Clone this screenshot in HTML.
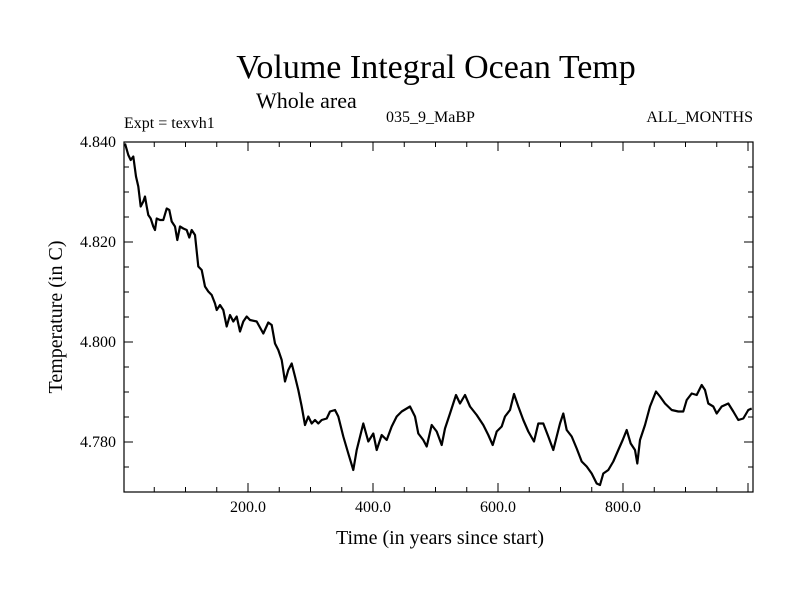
<!DOCTYPE html>
<html><head><meta charset="utf-8"><style>
body{margin:0;background:#fff;}
svg text{font-family:"Liberation Serif",serif;fill:#000;}
</style></head><body>
<svg id="chart" width="800" height="600" xmlns="http://www.w3.org/2000/svg">
<rect width="800" height="600" fill="#fff"/>
<text x="436" y="78" font-size="34" text-anchor="middle">Volume Integral Ocean Temp</text>
<text x="256" y="108" font-size="22">Whole area</text>
<text x="124" y="128" font-size="16">Expt = texvh1</text>
<text x="386" y="122" font-size="16">035_9_MaBP</text>
<text x="753" y="122" font-size="16" text-anchor="end">ALL_MONTHS</text>
<text transform="translate(62,317) rotate(-90)" font-size="20" text-anchor="middle">Temperature (in C)</text>
<text x="440" y="544" font-size="20" text-anchor="middle">Time (in years since start)</text>
<g id="axes"></g>
<path id="series" fill="none" stroke="#000" stroke-width="2.2" stroke-linejoin="round"/>
<rect x="124" y="142" width="629" height="350" fill="none" stroke="#000" stroke-width="1.2"/>
</svg>
<script>
const years=[3.2,8.5,12.3,16.5,20.8,24.5,28.3,32.5,35.2,37.9,40.5,44.3,48.5,51.2,53.9,59.2,64.5,69.9,74.1,77.9,83.2,86.9,91.2,96.5,101.9,106.1,109.9,115.2,120.5,125.9,131.2,136.5,141.9,147.2,149.9,155.2,160.5,165.9,171.2,176.5,181.9,187.2,192.5,197.9,203.2,213.9,224.5,232.5,237.9,243.2,248.5,253.9,259.2,264.5,269.9,275.2,280.5,285.9,291.2,296.5,301.9,307.2,312.5,317.9,325.9,331.2,339.2,344.5,352.5,360.5,368.5,373.9,384.5,392.5,400.5,405.9,413.9,421.9,429.9,437.9,445.9,459.2,467.2,472.5,480.5,485.9,493.9,501.9,509.9,515.2,523.2,532.8,539.2,547.2,555.2,565.9,576.5,584.5,591.5,597.9,605.9,611.2,619.2,625.6,632.5,640.5,648.5,657.6,664.5,672.5,680.5,688.5,693.9,699.2,704.5,709.9,717.9,725.9,733.9,741.9,749.9,757.9,763.2,768.5,776.5,784.5,792.5,799.5,805.9,812.3,819.2,822.9,827.2,835.2,843.2,852.8,859.2,867.2,877.9,888.5,896.5,901.9,909.9,917.9,925.9,931.2,936.5,944.5,949.9,957.9,968.5,976.5,984.5,992.5,1000.5,1005.9];
const temps=[4.8397,4.8374,4.8364,4.8371,4.8331,4.8311,4.8271,4.8281,4.8291,4.8271,4.8254,4.8247,4.8231,4.8224,4.8247,4.8244,4.8244,4.8267,4.8264,4.8241,4.8231,4.8204,4.8231,4.8227,4.8224,4.8209,4.8224,4.8214,4.8151,4.8144,4.8111,4.8101,4.8094,4.8077,4.8064,4.8074,4.8064,4.8031,4.8054,4.8041,4.8051,4.8021,4.8041,4.8051,4.8044,4.8041,4.8017,4.8039,4.8034,4.7997,4.7984,4.7964,4.7921,4.7944,4.7957,4.7931,4.7904,4.7871,4.7834,4.7851,4.7837,4.7844,4.7837,4.7844,4.7847,4.7861,4.7864,4.7851,4.7811,4.7777,4.7744,4.7784,4.7837,4.7801,4.7817,4.7784,4.7814,4.7804,4.7831,4.7851,4.7861,4.7871,4.7851,4.7817,4.7804,4.7791,4.7834,4.7821,4.7794,4.7827,4.7857,4.7894,4.7877,4.7894,4.7871,4.7854,4.7834,4.7814,4.7794,4.7821,4.7831,4.7851,4.7864,4.7896,4.7871,4.7844,4.7821,4.7801,4.7837,4.7837,4.7811,4.7784,4.7811,4.7837,4.7857,4.7824,4.7811,4.7787,4.7761,4.7751,4.7737,4.7717,4.7714,4.7737,4.7744,4.7761,4.7784,4.7804,4.7824,4.7797,4.7784,4.7757,4.7804,4.7834,4.7871,4.7901,4.7891,4.7877,4.7864,4.7861,4.7861,4.7884,4.7897,4.7894,4.7914,4.7904,4.7877,4.7871,4.7857,4.7871,4.7877,4.7861,4.7844,4.7847,4.7864,4.7867];
const xTickLabels=[200,400,600,800];
const yTickLabels=[4.78,4.80,4.82,4.84];
const X0=124,X1=753,Y0=142,Y1=492,XMIN=1.6,XMAX=1008,YMIN=4.77,YMAX=4.84;
const sx=v=>X0+(v-XMIN)/(XMAX-XMIN)*(X1-X0);
const sy=v=>Y1-(v-YMIN)/(YMAX-YMIN)*(Y1-Y0);
const NS="http://www.w3.org/2000/svg";
const axes=document.getElementById('axes');
function line(x1,y1,x2,y2,name){const l=document.createElementNS(NS,'line');
l.setAttribute('x1',x1);l.setAttribute('y1',y1);l.setAttribute('x2',x2);l.setAttribute('y2',y2);
l.setAttribute('stroke','#000');l.setAttribute('stroke-width','1');


axes.appendChild(l);}
for(let v=50;v<XMAX;v+=50){const x=sx(v);const big=v%200===0;const L=big?9:5;
line(x,Y1,x,Y1-L,'x-tick');line(x,Y0,x,Y0+L,'x-tick-top');}
for(let k=0;k<=14;k++){const v=YMIN+k*0.005;const y=sy(v);const big=k%4===2;const L=big?9:5;
line(X0,y,X0+L,y,'y-tick');line(X1,y,X1-L,y,'y-tick-right');}
xTickLabels.forEach(v=>{const t=document.createElementNS(NS,'text');
t.setAttribute('x',sx(v));t.setAttribute('y',Y1+20);t.setAttribute('font-size','16');t.setAttribute('text-anchor','middle');
t.textContent=v.toFixed(1);


axes.appendChild(t);});
yTickLabels.forEach(v=>{const t=document.createElementNS(NS,'text');
t.setAttribute('x',X0-8);t.setAttribute('y',sy(v)+5);t.setAttribute('font-size','16');t.setAttribute('text-anchor','end');
t.textContent=v.toFixed(3);


axes.appendChild(t);});
document.getElementById('series').setAttribute('d',years.map((v,i)=>(i?'L':'M')+sx(v).toFixed(1)+','+sy(temps[i]).toFixed(1)).join(''));
</script>
</body></html>
